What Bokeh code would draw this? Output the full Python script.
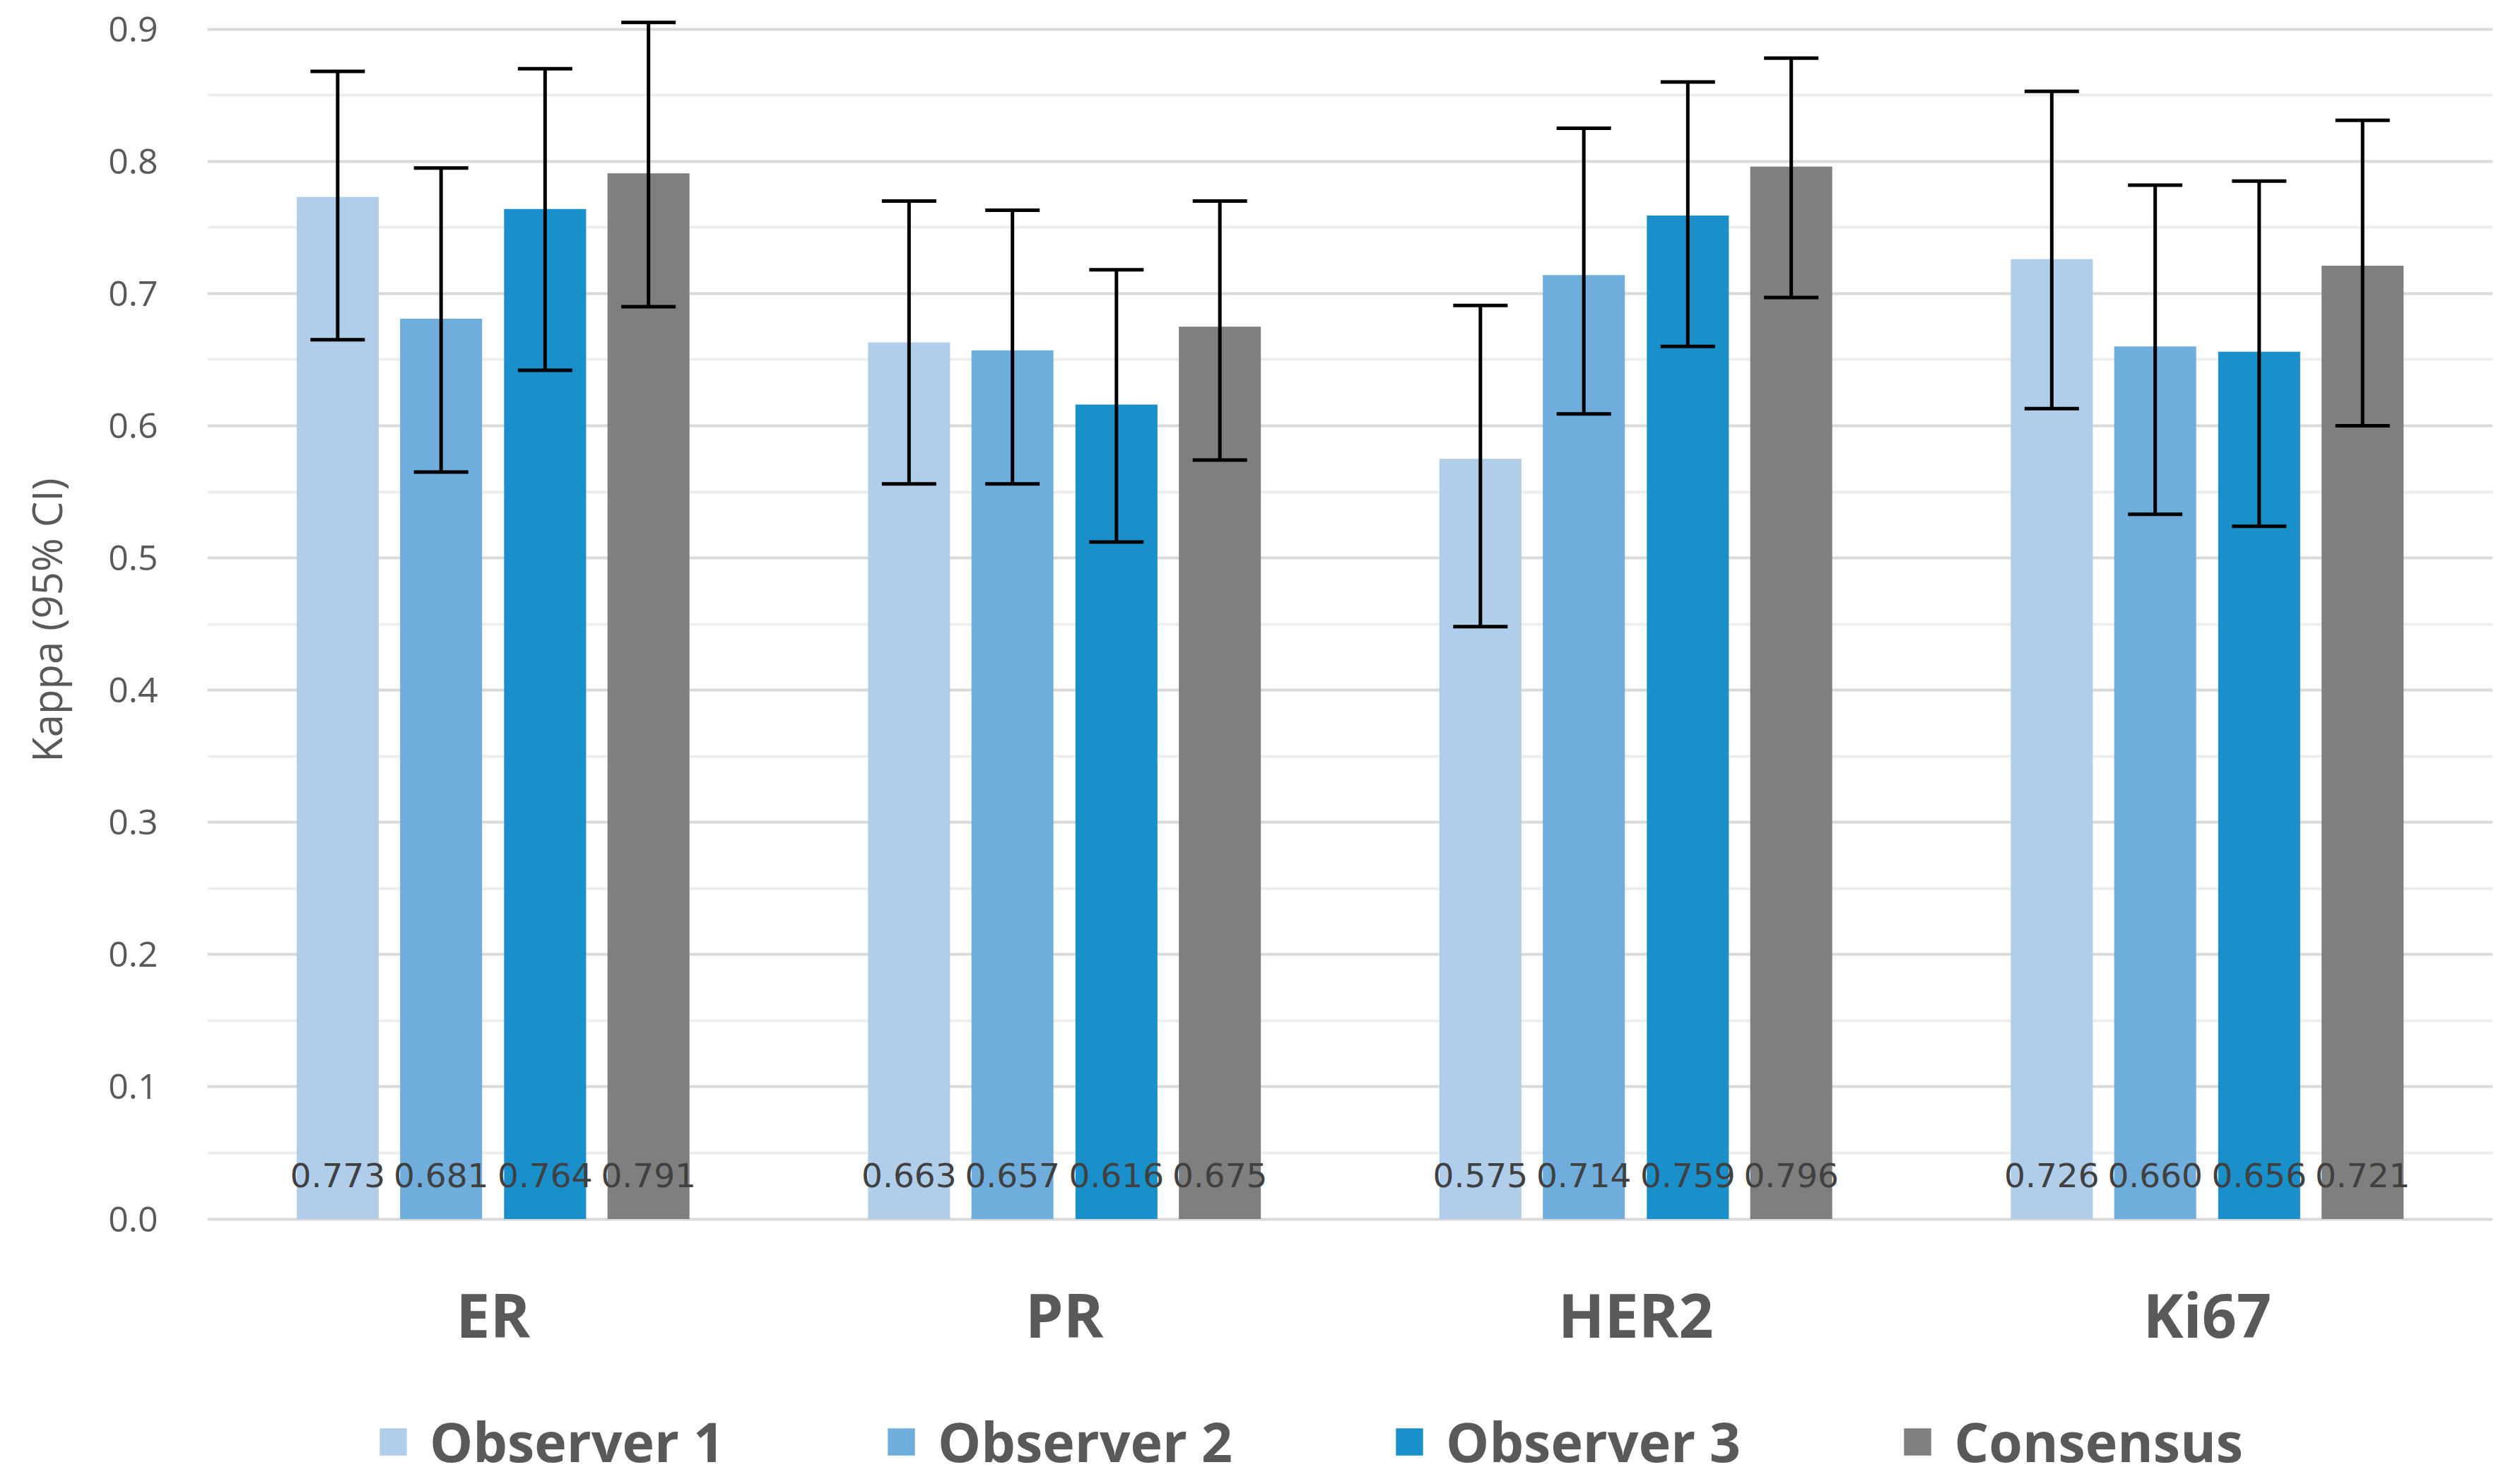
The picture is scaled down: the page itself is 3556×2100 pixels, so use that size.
from bokeh.plotting import figure
from bokeh.layouts import column
from bokeh.models import (ColumnDataSource, FactorRange, FixedTicker, Whisker, TeeHead,
                          Legend, LegendItem, PrintfTickFormatter)
from bokeh.transform import dodge
from bokeh.core.properties import value
from bokeh.embed import file_html
from bokeh.resources import INLINE

# ---- data ----
categories = ["ER", "PR", "HER2", "Ki67"]
series = ["Observer 1", "Observer 2", "Observer 3", "Consensus"]

obs1 = [0.773, 0.663, 0.575, 0.726]
obs2 = [0.681, 0.657, 0.714, 0.660]
obs3 = [0.764, 0.616, 0.759, 0.656]
cons = [0.791, 0.675, 0.796, 0.721]

obs1_lo = [0.665, 0.556, 0.448, 0.613]
obs1_hi = [0.868, 0.770, 0.691, 0.853]
obs2_lo = [0.565, 0.556, 0.609, 0.533]
obs2_hi = [0.795, 0.763, 0.825, 0.782]
obs3_lo = [0.642, 0.512, 0.660, 0.524]
obs3_hi = [0.870, 0.718, 0.860, 0.785]
cons_lo = [0.690, 0.574, 0.697, 0.600]
cons_hi = [0.905, 0.770, 0.878, 0.831]

y_ticks = [0.0, 0.1, 0.2, 0.3, 0.4, 0.5, 0.6, 0.7, 0.8, 0.9]
y_minor = [0.05, 0.15, 0.25, 0.35, 0.45, 0.55, 0.65, 0.75, 0.85]

values_all = [obs1, obs2, obs3, cons]
lows_all = [obs1_lo, obs2_lo, obs3_lo, cons_lo]
highs_all = [obs1_hi, obs2_hi, obs3_hi, cons_hi]
colors = ["#B0CDEA", "#6FAEDC", "#1A90CB", "#7F7F7F"]
offsets = [-0.272, -0.091, 0.091, 0.272]

p = figure(x_range=FactorRange(*categories), y_range=(-0.004, 0.91),
           width=3556, height=1980, output_backend="svg", toolbar_location=None,
           min_border_left=293, min_border_right=29, min_border_top=22, min_border_bottom=248)
p.outline_line_color = None
p.background_fill_color = "white"
p.border_fill_color = "white"

# grid
p.xgrid.grid_line_color = None
p.yaxis.ticker = FixedTicker(ticks=y_ticks, minor_ticks=y_minor)
p.ygrid.grid_line_color = "#D9D9D9"
p.ygrid.grid_line_width = 4
p.ygrid.minor_grid_line_color = "#EDEDED"
p.ygrid.minor_grid_line_width = 4

# y axis
p.yaxis.formatter = PrintfTickFormatter(format="%.1f")
p.yaxis.axis_line_color = None
p.yaxis.major_tick_line_color = None
p.yaxis.minor_tick_line_color = None
p.yaxis.major_tick_out = 0
p.yaxis.major_tick_in = 0
p.yaxis.major_label_standoff = 66
p.yaxis.major_label_text_font = "Open Sans"
p.yaxis.major_label_text_font_size = "50px"
p.yaxis.major_label_text_color = "#595959"
p.yaxis.axis_label = "Kappa (95% CI)"
p.yaxis.axis_label_text_font = "Open Sans"
p.yaxis.axis_label_text_font_size = "58px"
p.yaxis.axis_label_text_font_style = "normal"
p.yaxis.axis_label_text_color = "#595959"
p.yaxis.axis_label_standoff = 45

# x axis
p.xaxis.axis_line_color = None
p.xaxis.major_tick_line_color = None
p.xaxis.minor_tick_line_color = None
p.xaxis.major_tick_out = 0
p.xaxis.major_tick_in = 0
p.xaxis.major_label_standoff = 68
p.xaxis.major_label_text_font = "Open Sans"
p.xaxis.major_label_text_font_size = "86px"
p.xaxis.major_label_text_font_style = "bold"
p.xaxis.major_label_text_color = "#595959"

for name, vals, lo, hi, col, off in zip(series, values_all, lows_all, highs_all, colors, offsets):
    src = ColumnDataSource(data=dict(cat=categories, val=vals, lower=lo, upper=hi,
                                     lbl=["%.3f" % v for v in vals]))
    p.vbar(x=dodge("cat", off, range=p.x_range), top="val", bottom=0, width=0.1435,
           source=src, fill_color=col, line_color=None)
    w = Whisker(source=src, base=dodge("cat", off, range=p.x_range), upper="upper", lower="lower",
                line_color="black", line_width=5, level="annotation",
                upper_head=TeeHead(size=77, line_color="black", line_width=5),
                lower_head=TeeHead(size=77, line_color="black", line_width=5))
    p.add_layout(w)
    p.text(x=dodge("cat", off, range=p.x_range), y=0.033, text="lbl", source=src,
           text_align="center", text_baseline="middle", text_font=value("DejaVu Sans"),
           text_font_size="47px", text_color="#404040")

# ---- legend strip below the chart ----
lg = figure(width=3556, height=120, x_range=(0, 1), y_range=(0, 1),
            output_backend="svg", toolbar_location=None, min_border=0,
            x_axis_type=None, y_axis_type=None)
lg.outline_line_color = None
lg.background_fill_color = "white"
lg.border_fill_color = "white"
items = []
for name, vals, col in zip(series, values_all, colors):
    # hidden proxy renderer carrying the series, used only for its legend swatch
    proxy = lg.vbar(x=list(range(len(vals))), top=vals, width=0.1, fill_color=col,
                    line_color=None, visible=False)
    items.append(LegendItem(label=name, renderers=[proxy]))

legend = Legend(items=items, orientation="horizontal", location=(239, 8),
                glyph_width=48, glyph_height=48, label_standoff=28, label_width=0,
                spacing=226, padding=0, margin=0, border_line_color=None,
                background_fill_alpha=0, inactive_fill_alpha=0, click_policy="none",
                label_text_font="Open Sans",
                label_text_font_size="77px", label_text_font_style="bold",
                label_text_color="#595959")
lg.add_layout(legend, "center")

layout = column(p, lg, spacing=0)
open("out.html", "w").write(file_html(layout, INLINE))
